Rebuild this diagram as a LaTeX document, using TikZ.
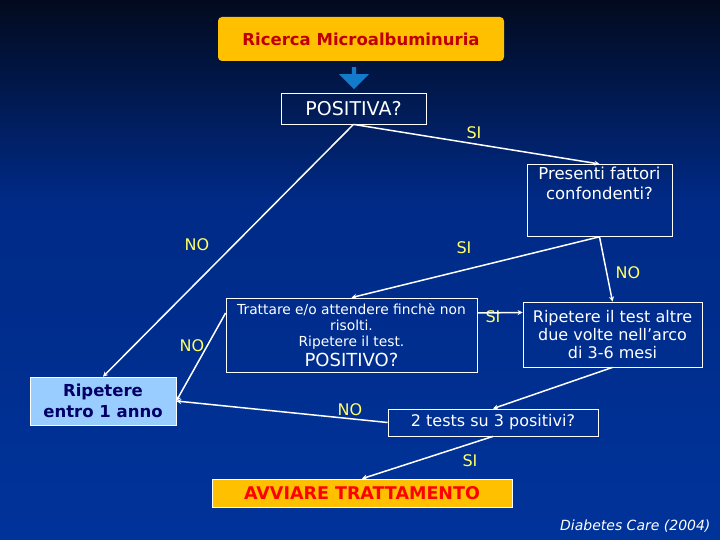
\documentclass[tikz,border=0pt]{standalone}
\usepackage{fontspec}
\setmainfont{DejaVu Sans}
\usetikzlibrary{arrows.meta,shapes.arrows,calc}
\definecolor{bgtop}{HTML}{020A1E}
\definecolor{bgmid}{HTML}{002A86}
\definecolor{bgbot}{HTML}{00339A}
\definecolor{gold}{HTML}{FFC000}
\definecolor{lblue}{HTML}{99CCFF}
\definecolor{navy}{HTML}{000066}
\definecolor{dred}{HTML}{C00000}
\definecolor{lab}{HTML}{FFFF66}
\begin{document}
\begin{tikzpicture}[x=1pt,y=-1pt,
  wbox/.style={draw=white,line width=0.8pt,text=white,align=center,inner sep=2pt},
  lbl/.style={text=lab,font=\fontsize{16}{18}\selectfont},
  conn/.style={draw=white,line width=1.5pt,-{Stealth[length=5pt,width=5pt]}}]
\useasboundingbox (0,0) rectangle (720,540);
\shade[top color=bgtop,bottom color=bgmid] (0,0) rectangle (720,200);
\shade[top color=bgmid,bottom color=bgbot] (0,200) rectangle (720,540);
% nodes
\node[fill=gold,rounded corners=4pt,minimum width=286pt,minimum height=44pt,text=dred,font=\bfseries\fontsize{16.5}{19}\selectfont] (ric) at (361,39) {Ricerca Microalbuminuria};
\node[single arrow,shape border rotate=270,fill=cyan!60!blue,minimum height=22pt,minimum width=30pt,single arrow head extend=7pt,inner sep=1pt] (arr) at (354,77) {};
\node[wbox,minimum width=145pt,minimum height=31pt,font=\fontsize{19}{22}\selectfont] (pos) at (353.5,108.5) {POSITIVA?};
\node[wbox,minimum width=145pt,minimum height=72pt,anchor=north,font=\fontsize{16.5}{20}\selectfont] (pres) at (599.5,164) {Presenti fattori\\confondenti?\\[14pt]};
\node[wbox,minimum width=251pt,minimum height=74pt,font=\fontsize{13.8}{16}\selectfont] (tra) at (351.5,335) {Trattare e/o attendere finchè non\\risolti.\\Ripetere il test.\\[2pt]{\fontsize{18}{20}\selectfont POSITIVO?}};
\node[wbox,minimum width=179pt,minimum height=65pt,font=\fontsize{16}{18}\selectfont] (alt) at (612.5,334.5) {Ripetere il test altre\\due volte nell’arco\\di 3-6 mesi};
\node[fill=lblue,draw=white,line width=0.6pt,minimum width=146pt,minimum height=48pt,align=center,text=navy,font=\bfseries\fontsize{16.5}{21}\selectfont] (rip) at (103,401) {Ripetere\\entro 1 anno};
\node[wbox,minimum width=210pt,minimum height=27pt,font=\fontsize{16}{18}\selectfont] (two) at (493,422.5) {2 tests su 3 positivi?};
\node[fill=gold,draw=white,line width=0.6pt,minimum width=300pt,minimum height=28pt,text=red,font=\bfseries\fontsize{17.5}{20}\selectfont] (avv) at (362,493) {AVVIARE TRATTAMENTO};
\node[text=white,font=\itshape\fontsize{14}{16}\selectfont,anchor=east] (ref) at (714,526) {Diabetes Care (2004)};
% labels
\node[lbl] (l1) at (474,133) {SI};
\node[lbl] (l2) at (197,245) {NO};
\node[lbl] (l3) at (464,248) {SI};
\node[lbl] (l4) at (628,273) {NO};
\node[lbl] (l5) at (493,317) {SI};
\node[lbl] (l6) at (192,346) {NO};
\node[lbl] (l7) at (350,410) {NO};
\node[lbl] (l8) at (470,461) {SI};
% connectors
\draw[conn] (pos.south) -- (pres.north);
\draw[conn] (pos.south) -- (rip.north);
\draw[conn] (pres.south) -- (tra.north);
\draw[conn] (pres.south) -- (alt.north);
\draw[conn] ($(tra.west)+(0,-22)$) -- (rip.east);
\draw[conn] ($(tra.east)+(0,-22)$) -- ($(alt.west)+(0,-22)$);
\draw[conn] (alt.south) -- (two.north);
\draw[conn] (two.west) -- (rip.east);
\draw[conn] (two.south) -- (avv.north);
\end{tikzpicture}
\end{document}
